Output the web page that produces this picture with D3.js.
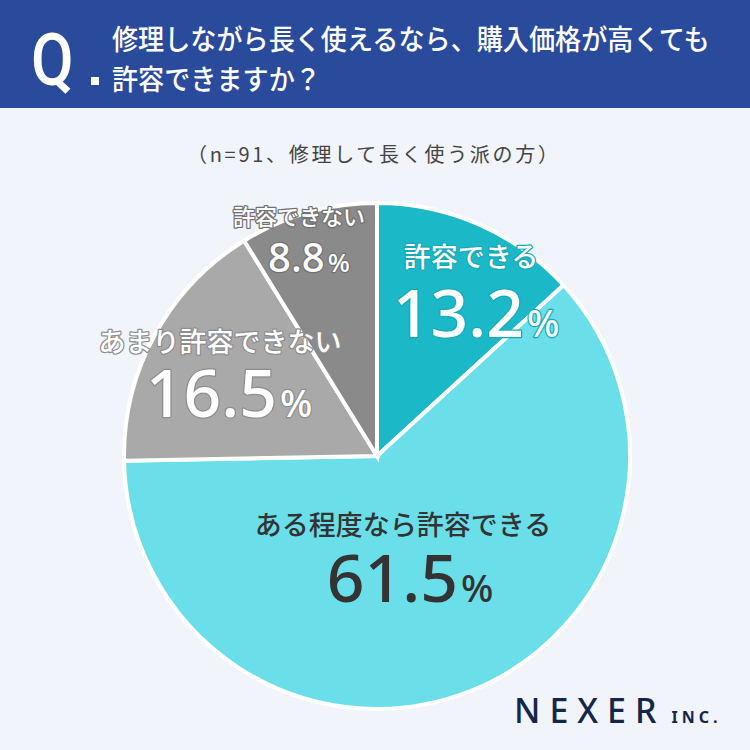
<!DOCTYPE html>
<html>
<head>
<meta charset="utf-8">
<script src="https://cdn.jsdelivr.net/npm/d3@7"></script>
<style>
  html, body { margin: 0; padding: 0; background: #f1f4fa; }
  svg { display: block; }
</style>
</head>
<body>
<svg id="chart"></svg>
<script>
// data
const categories = ['許容できる', 'ある程度なら許容できる', 'あまり許容できない', '許容できない'];
const values = [13.2, 61.5, 16.5, 8.8];
const titleLines = ['修理しながら長く使えるなら、購入価格が高くても', '許容できますか？'];
const subtitle = '（n=91、修理して長く使う派の方）';

const colors = ['#1bb9c8', '#6adfe9', '#aaa9aa', '#8b8a8b'];
// label styling per slice: fill, outline, name position, number position (relative to pie centre)
const labelStyle = [
    { fill: '#fff', stroke: '#17a9b8', name: [94, -189], num: [99, -119] },
    { fill: '#333', stroke: 'none', name: [26, 79], num: [33, 146] },
    { fill: '#fff', stroke: '#8e8d8e', name: [-157, -104], num: [-148, -39] },
    { fill: '#fff', stroke: '#727172', name: [-78, -231], num: [-68, -184], small: true },
];

const W = 750, H = 750;
const cx = 377, cy = 456, r = 253;

const svg = d3.select('#chart').attr('width', W).attr('height', H);

svg.append('rect').attr('width', W).attr('height', H).attr('fill', '#f1f4fa');

// header band
svg.append('rect').attr('width', W).attr('height', 108).attr('fill', '#2a4a9c');
svg.append('text')
    .attr('transform', 'translate(31,85) scale(0.86,1)')
    .attr('font-family', 'Roboto, sans-serif')
    .attr('font-weight', 500)
    .attr('font-size', 72)
    .attr('fill', '#fff')
    .text('Q');
svg.append('rect').attr('x', 91).attr('y', 77).attr('width', 8).attr('height', 8).attr('fill', '#fff');

// title glyphs in the picture are a bit taller than wide
svg.selectAll('.title')
    .data(titleLines)
    .join('text')
    .attr('class', 'title')
    .attr('transform', (d, i) => `translate(112,${50 + i * 40}) scale(1.045,1.12)`)
    .attr('font-family', '"Noto Sans CJK JP", sans-serif')
    .attr('font-weight', 500)
    .attr('font-size', 25)
    .attr('fill', '#fff')
    .text((d) => d);

svg.append('text')
    .attr('x', 187).attr('y', 162)
    .attr('font-family', '"Noto Sans CJK JP", sans-serif')
    .attr('font-size', 20)
    .attr('fill', '#444')
    .attr('textLength', 371)
    .attr('lengthAdjust', 'spacing')
    .text(subtitle);

// pie
const slices = d3.pie().sort(null).value((d) => d)(values);
const arc = d3.arc().innerRadius(0).outerRadius(r);

const g = svg.append('g').attr('transform', `translate(${cx},${cy})`);

g.selectAll('path')
    .data(slices)
    .join('path')
    .attr('d', arc)
    .attr('fill', (d, i) => colors[i])
    .attr('stroke', '#fff')
    .attr('stroke-width', 4)
    .attr('stroke-linejoin', 'miter');

// labels
const labels = g.selectAll('.lbl')
    .data(slices)
    .join('g')
    .attr('class', 'lbl');

labels.append('text')
    .attr('x', (d, i) => labelStyle[i].name[0])
    .attr('y', (d, i) => labelStyle[i].name[1])
    .attr('text-anchor', 'middle')
    .attr('font-family', '"Noto Sans CJK JP", sans-serif')
    .attr('font-weight', 500)
    .attr('font-size', (d, i) => (labelStyle[i].small ? 22 : 27))
    .attr('fill', (d, i) => labelStyle[i].fill)
    .attr('stroke', (d, i) => labelStyle[i].stroke)
    .attr('stroke-width', 2.5)
    .attr('paint-order', 'stroke')
    .attr('stroke-linejoin', 'round')
    .text((d, i) => categories[i]);

const num = labels.append('text')
    .attr('x', (d, i) => labelStyle[i].num[0])
    .attr('y', (d, i) => labelStyle[i].num[1])
    .attr('text-anchor', 'middle')
    .attr('font-family', '"Noto Sans", sans-serif')
    .attr('font-weight', 500)
    .attr('font-size', (d, i) => (labelStyle[i].small ? 40 : 66))
    .attr('fill', (d, i) => labelStyle[i].fill)
    .attr('stroke', (d, i) => labelStyle[i].stroke)
    .attr('stroke-width', 2.5)
    .attr('paint-order', 'stroke')
    .attr('stroke-linejoin', 'round');

num.append('tspan').text((d) => d3.format('.1f')(d.data));
num.append('tspan')
    .attr('dx', 3)
    .attr('font-size', (d, i) => (labelStyle[i].small ? 26 : 38))
    .text('%');

// logo
const logo = svg.append('text')
    .attr('x', 514).attr('y', 723)
    .attr('font-family', '"Noto Sans", sans-serif')
    .attr('font-weight', 500)
    .attr('fill', '#14264a');
logo.append('tspan').attr('font-size', 34).attr('letter-spacing', 9).text('NEXER');
logo.append('tspan').attr('dx', 6).attr('font-size', 16).attr('font-weight', 700).attr('letter-spacing', 4).text('INC.');
</script>
</body>
</html>
